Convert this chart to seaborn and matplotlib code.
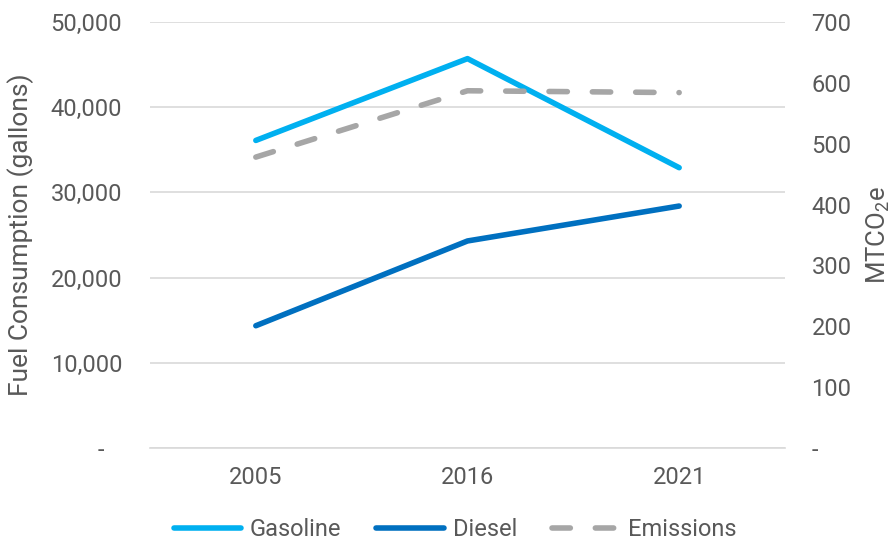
import matplotlib
matplotlib.use("Agg")
import matplotlib.pyplot as plt
import seaborn as sns
import pandas as pd
from matplotlib.ticker import FuncFormatter, FixedLocator
from matplotlib.lines import Line2D

years = ["2005", "2016", "2021"]
gasoline = [36100, 45700, 32900]
diesel = [14350, 24300, 28400]
emissions = [478, 587, 584]

left_ticks = [0, 10000, 20000, 30000, 40000, 50000]
right_ticks = [0, 100, 200, 300, 400, 500, 600, 700]

sns.set_theme(style="white")
plt.rcParams['font.family'] = ['Roboto', 'DejaVu Sans']
plt.rcParams['mathtext.fontset'] = 'custom'
plt.rcParams['mathtext.rm'] = 'Roboto'
plt.rcParams['mathtext.it'] = 'Roboto'

TXT = "#595959"
GAS = "#00B0F0"
DIE = "#0070C0"
EMI = "#A6A6A6"
GRID = "#D9D9D9"
TS = 17
DASH = [3.3, 4.5]

fig = plt.figure(figsize=(8.94, 5.45), dpi=100)
ax = fig.add_axes([150/894, 1-448/545, (785-150)/894, (448-22)/545])

df_fuel = pd.DataFrame({
    "Year": years * 2,
    "Gallons": gasoline + diesel,
    "Fuel": ["Gasoline"] * 3 + ["Diesel"] * 3,
})
sns.lineplot(data=df_fuel, x="Year", y="Gallons", hue="Fuel",
             palette={"Gasoline": GAS, "Diesel": DIE}, linewidth=4,
             ax=ax, legend=False, sort=False)
for l in ax.lines:
    l.set_solid_capstyle("round")
    l.set_solid_joinstyle("round")

ax.set_xlim(-0.5, 2.5)
ax.set_ylim(0, 50000)
ax.yaxis.set_major_locator(FixedLocator(left_ticks))
ax.yaxis.set_major_formatter(FuncFormatter(lambda v, p: "-   " if v == 0 else f"{int(v):,}"))
ax.grid(axis="y", color=GRID, linewidth=1.2)
ax.set_axisbelow(True)
for s in ["top", "left", "right"]:
    ax.spines[s].set_visible(False)
ax.spines["bottom"].set_color(GRID)
ax.spines["bottom"].set_linewidth(1.2)
ax.tick_params(axis="y", colors=TXT, labelsize=TS, length=0, pad=20)
ax.tick_params(axis="x", colors=TXT, labelsize=TS, length=0, pad=13)
ax.set_xlabel("")
ax.set_ylabel("Fuel Consumption (gallons)", color=TXT, fontsize=19)
ax.yaxis.set_label_coords(-0.182, 0.5)

ax2 = ax.twinx()
df_em = pd.DataFrame({"Year": years, "MTCO2e": emissions})
sns.lineplot(data=df_em, x="Year", y="MTCO2e", color=EMI, linewidth=4,
             ax=ax2, sort=False)
ln = ax2.lines[-1]
ln.set_dashes(DASH)
ln.set_dash_capstyle("round")
ax2.set_xlim(-0.5, 2.5)
ax2.set_ylim(0, 700)
ax2.yaxis.set_major_locator(FixedLocator(right_ticks))
ax2.yaxis.set_major_formatter(FuncFormatter(lambda v, p: "-" if v == 0 else f"{int(v)}"))
for s in ["top", "left", "right", "bottom"]:
    ax2.spines[s].set_visible(False)
ax2.tick_params(axis="y", colors=TXT, labelsize=TS, length=0, pad=19)
ax2.set_ylabel(r"MTCO$_2$e", color=TXT, fontsize=18.5)
ax2.yaxis.label.set_verticalalignment("center")
ax2.yaxis.label.set_horizontalalignment("center")
ax2.yaxis.set_label_coords((878-150)/635, 0.5)
ax2.grid(False)

handles = [
    Line2D([0], [0], color=GAS, lw=4, solid_capstyle="round"),
    Line2D([0], [0], color=DIE, lw=4, solid_capstyle="round"),
    Line2D([0], [0], color=EMI, lw=4, dashes=DASH, dash_capstyle="round"),
]
leg = fig.legend(handles, ["Gasoline", "Diesel", "Emissions"], loc="center",
                 bbox_to_anchor=(455/894, 1-530/545), ncol=3, frameon=False,
                 fontsize=17, handlelength=2.86, handletextpad=0.37,
                 columnspacing=1.48, labelcolor=TXT)

fig.savefig("out.png", dpi=100)
